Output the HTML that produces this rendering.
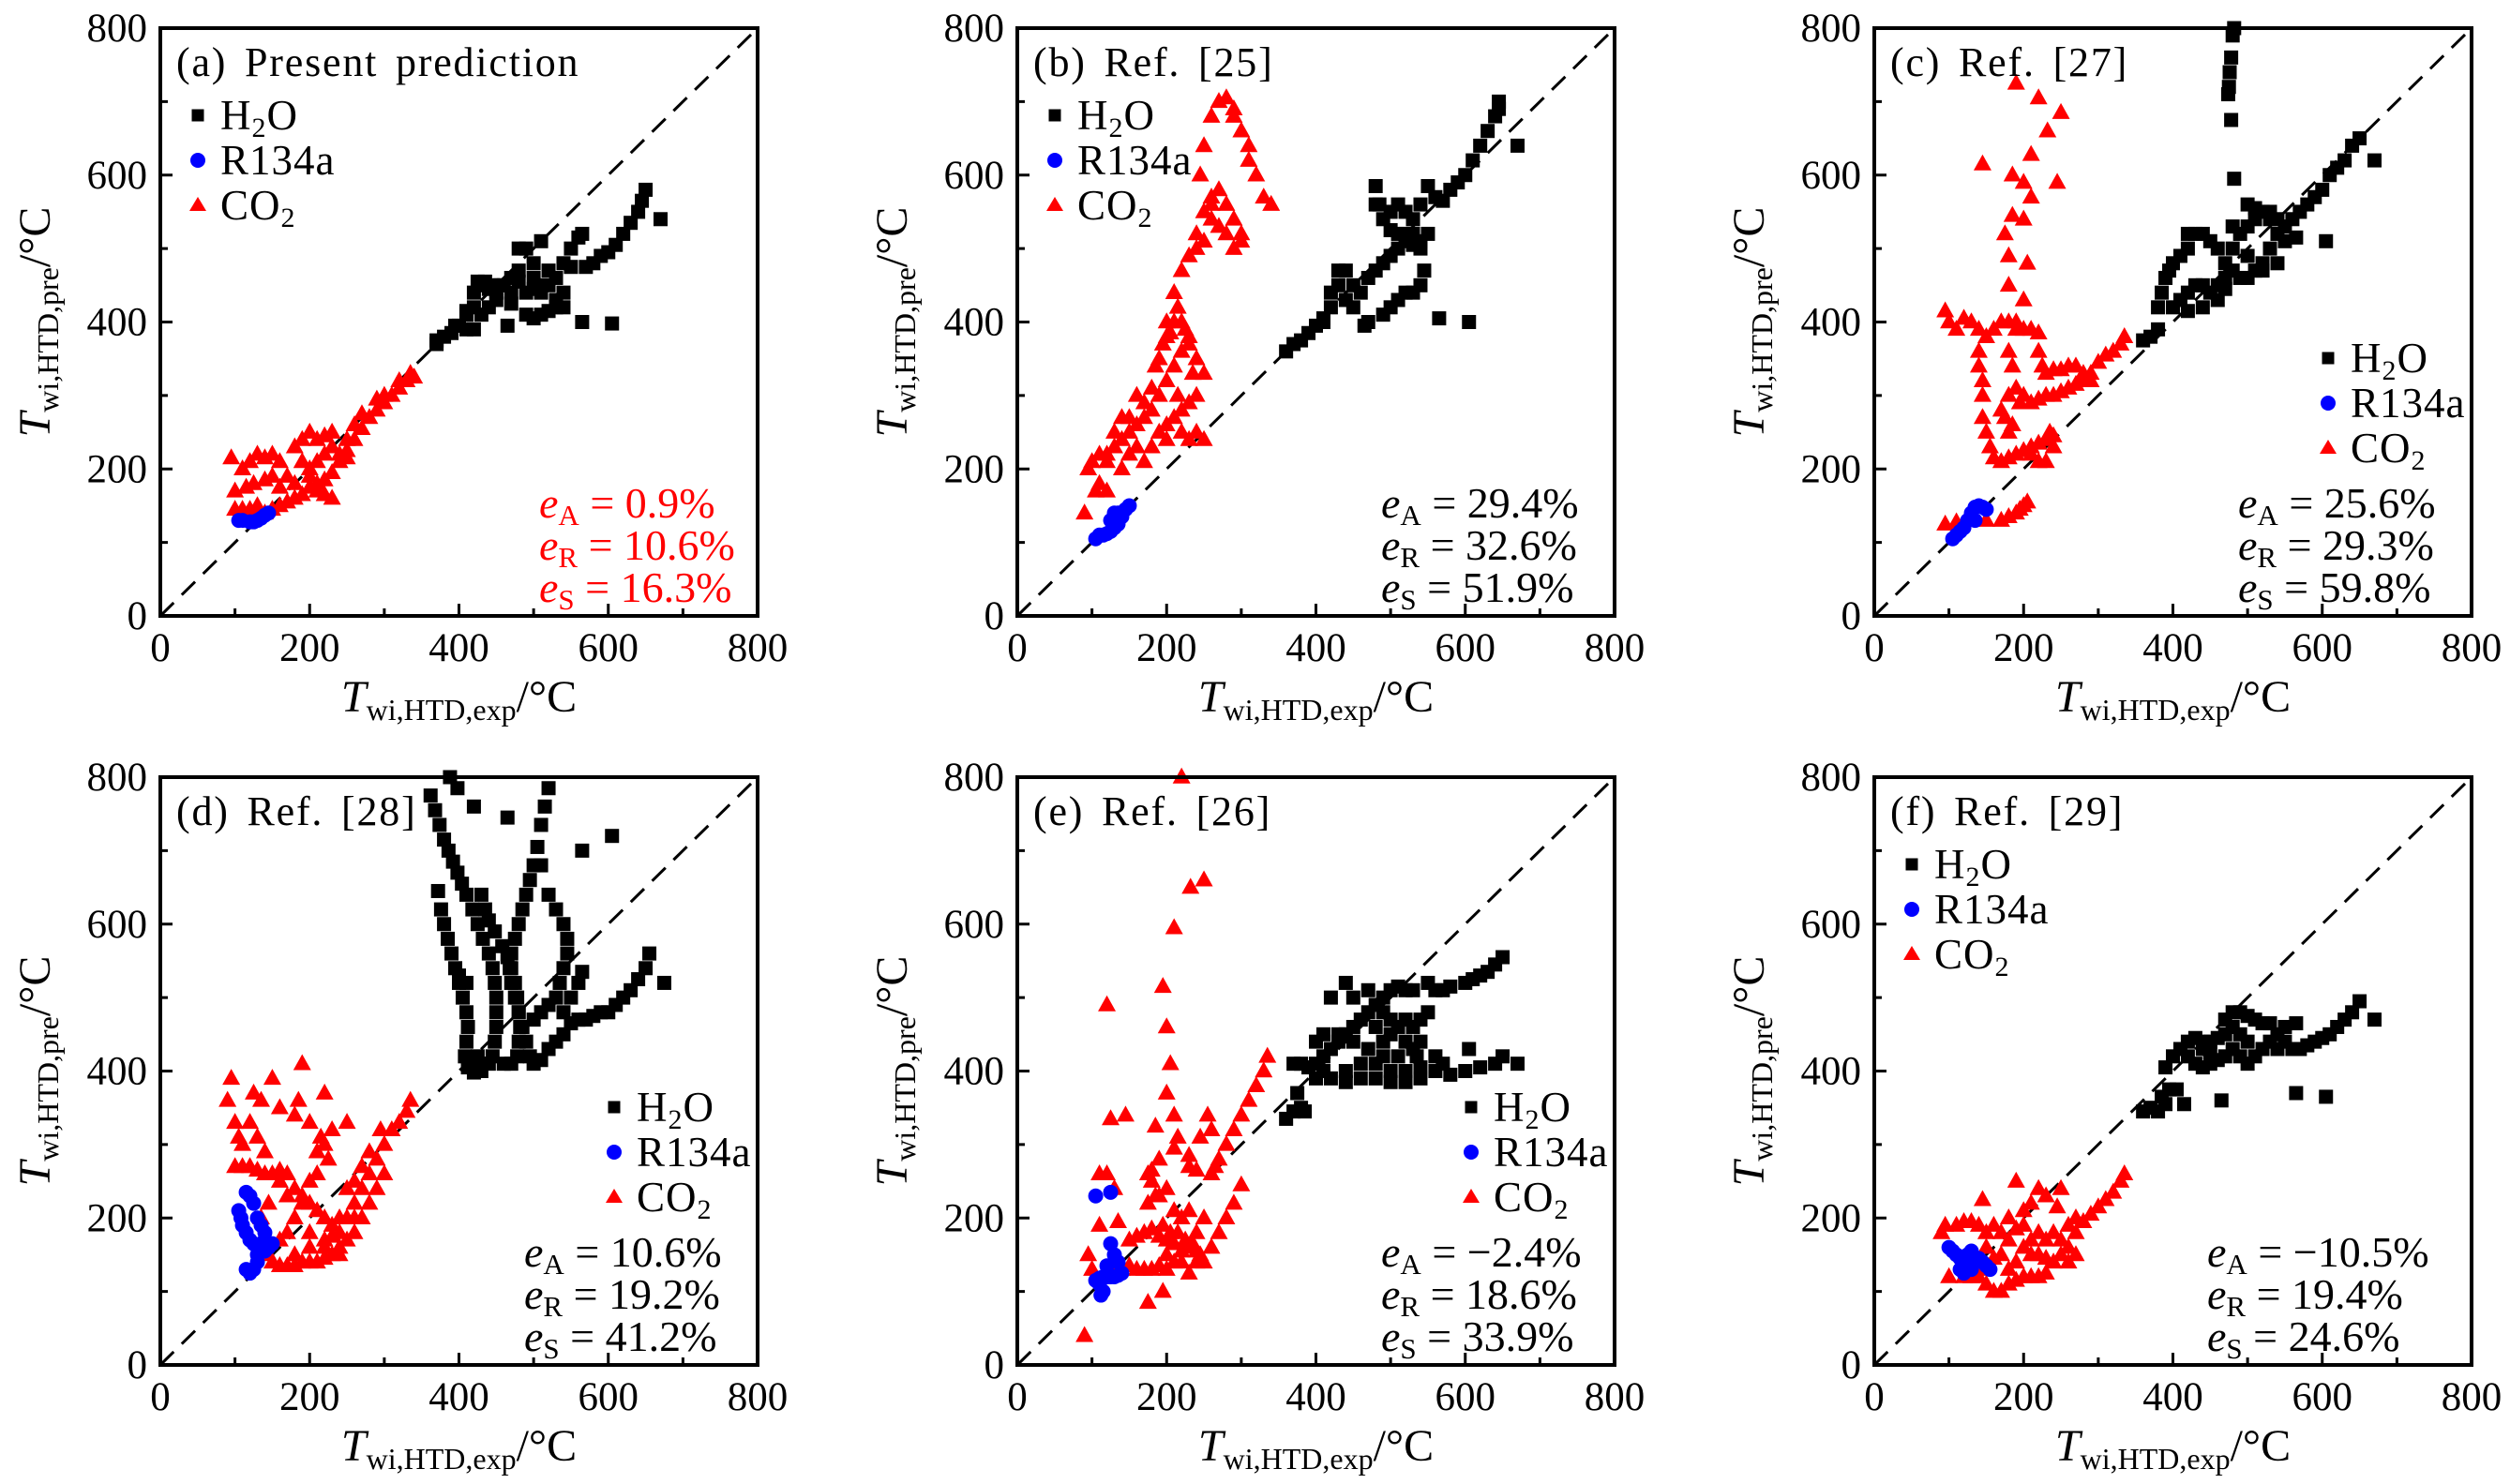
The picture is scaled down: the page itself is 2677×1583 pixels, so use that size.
<!DOCTYPE html>
<html><head><meta charset="utf-8"><style>
html,body{margin:0;padding:0;background:#fff}
svg{display:block;font-family:"Liberation Serif",serif}
</style></head><body>
<svg id="fig" width="2677" height="1583" viewBox="0 0 2677 1583" xmlns="http://www.w3.org/2000/svg"></svg>
<script>
const tickValues=[0,200,400,600,800];
const panelTitles=["(a) Present prediction","(b) Ref. [25]","(c) Ref. [27]","(d) Ref. [28]","(e) Ref. [26]","(f) Ref. [29]"];
const statA=["0.9%","29.4%","25.6%","10.6%","\u22122.4%","\u221210.5%"];
const statR=["10.6%","32.6%","29.3%","19.2%","18.6%","19.4%"];
const statS=["16.3%","51.9%","59.8%","41.2%","33.9%","24.6%"];

const aH2O=[[370,370],[380,380],[390,385],[400,395],[410,410],[420,420],[420,440],[430,450],[440,445],[450,440],[460,450],[470,460],[480,470],[480,500],[490,500],[500,480],[510,510],[500,460],[510,450],[520,470],[530,460],[540,440],[540,420],[530,420],[520,415],[510,410],[500,405],[490,410],[470,425],[450,430],[440,420],[430,410],[420,390],[410,415],[425,455],[435,455],[445,450],[455,450],[470,440],[480,455],[490,440],[500,445],[510,440],[520,450],[530,430],[540,480],[550,500],[560,515],[565,520],[550,475],[570,475],[580,480],[590,490],[600,495],[610,505],[620,520],[630,535],[640,550],[645,565],[650,580],[670,540],[565,400],[605,398],[465,395],[410,390],[370,375],[395,395]];
const aR134a=[[105,130],[110,130],[120,128],[125,128],[130,130],[135,133],[140,137],[145,140]];
const aCO2=[[140,140],[150,145],[160,150],[170,155],[180,160],[190,165],[200,175],[210,180],[220,185],[230,195],[240,210],[250,225],[260,240],[270,255],[280,270],[290,280],[300,290],[310,300],[320,310],[330,320],[340,325],[250,240],[260,260],[270,275],[290,295],[300,300],[320,320],[335,330],[95,215],[100,170],[100,145],[110,145],[120,145],[130,150],[110,200],[120,210],[130,220],[140,215],[150,220],[160,210],[115,175],[125,180],[140,185],[150,190],[160,175],[170,190],[180,230],[190,240],[200,250],[210,240],[220,245],[230,250],[200,200],[210,210],[220,220],[230,230],[190,210],[200,190],[210,170],[220,165],[230,160],[180,180],[240,220],[250,215]];

const bH2O=[[360,360],[370,370],[380,375],[390,385],[400,395],[410,405],[420,420],[420,440],[430,470],[440,470],[430,450],[450,450],[460,440],[470,460],[480,470],[490,480],[500,490],[510,500],[520,510],[530,505],[540,510],[550,520],[480,560],[480,585],[485,560],[490,540],[500,525],[510,520],[520,520],[530,520],[540,500],[545,470],[540,450],[530,440],[520,440],[510,430],[500,420],[490,410],[470,400],[450,420],[440,430],[500,550],[510,560],[520,550],[530,540],[540,560],[550,585],[560,570],[570,565],[580,580],[590,590],[600,600],[610,620],[620,640],[630,660],[640,680],[645,690],[645,700],[670,640],[565,405],[605,400],[465,395],[410,400]];
const bR134a=[[105,105],[110,110],[115,110],[120,112],[125,115],[130,120],[135,125],[140,135],[145,145],[150,150],[125,130],[130,140],[135,140]];
const bCO2=[[90,140],[95,200],[100,210],[110,220],[120,220],[130,230],[140,240],[150,250],[160,260],[170,270],[180,280],[190,300],[200,320],[210,340],[220,360],[230,380],[210,400],[215,420],[200,380],[190,350],[180,310],[170,290],[160,300],[150,270],[140,270],[130,250],[120,210],[110,180],[105,170],[120,170],[140,200],[150,220],[160,230],[170,210],[180,230],[200,260],[210,270],[220,250],[230,240],[240,250],[250,240],[250,330],[240,350],[230,370],[220,400],[225,390],[185,340],[195,370],[205,385],[215,300],[220,280],[230,290],[200,240],[190,250],[235,330],[240,300],[200,400],[210,440],[220,470],[230,490],[240,520],[250,550],[260,570],[270,580],[280,560],[290,540],[300,520],[300,510],[290,500],[280,520],[270,530],[260,540],[250,510],[260,560],[240,500],[245,600],[250,640],[260,680],[270,700],[280,705],[290,690],[300,660],[310,640],[320,600],[330,570],[340,560],[290,680],[310,620]];

const cH2O=[[360,375],[370,380],[380,390],[380,420],[385,440],[390,460],[395,470],[400,480],[410,490],[420,500],[420,520],[430,520],[440,520],[450,510],[460,500],[470,480],[480,470],[490,460],[500,460],[510,470],[520,480],[530,500],[540,520],[550,530],[560,540],[570,550],[580,560],[590,570],[600,580],[610,600],[620,610],[630,620],[640,640],[650,650],[670,620],[565,515],[605,510],[400,420],[410,430],[420,440],[430,450],[440,450],[450,440],[460,450],[470,460],[480,500],[490,520],[500,530],[510,540],[520,550],[530,550],[540,540],[550,510],[540,480],[520,470],[500,490],[480,530],[500,560],[510,555],[530,540],[420,415],[440,420],[460,430],[470,445],[475,720],[478,760],[480,790],[482,800],[476,740],[478,675],[482,595],[474,710]];
const cR134a=[[105,105],[110,110],[115,115],[120,120],[125,130],[130,140],[135,148],[140,150],[145,148],[150,145],[130,135],[135,130]];
const cCO2=[[95,125],[110,128],[130,130],[150,130],[170,130],[180,135],[190,140],[200,150],[205,155],[195,145],[95,415],[100,400],[110,390],[120,405],[130,400],[140,390],[150,380],[140,360],[140,340],[145,320],[145,300],[145,270],[150,250],[155,230],[160,215],[170,210],[180,215],[190,220],[200,225],[210,230],[220,235],[230,240],[240,245],[230,210],[220,210],[210,220],[235,250],[240,230],[170,280],[180,300],[190,310],[200,300],[210,290],[220,295],[230,300],[240,300],[250,305],[260,310],[270,315],[280,320],[290,330],[300,345],[310,355],[320,360],[330,370],[335,380],[160,390],[170,400],[180,400],[190,390],[200,390],[210,390],[220,385],[220,360],[225,340],[230,330],[240,335],[250,335],[260,340],[270,340],[280,330],[290,320],[180,360],[185,340],[175,270],[180,250],[185,260],[195,290],[145,615],[190,725],[220,705],[250,685],[232,660],[210,628],[185,600],[200,590],[245,590],[210,570],[185,545],[200,540],[175,520],[180,490],[205,480],[180,450],[200,430],[190,400]];

const dH2O=[[372,645],[376,620],[380,600],[385,580],[390,560],[395,540],[400,520],[405,500],[410,480],[412,460],[410,440],[408,420],[412,405],[420,398],[430,400],[362,775],[368,755],[374,735],[380,715],[386,700],[392,685],[398,670],[404,655],[410,640],[418,620],[425,600],[432,580],[440,560],[445,540],[448,520],[450,500],[450,480],[450,460],[448,440],[445,420],[440,410],[430,410],[425,420],[388,800],[398,785],[420,760],[430,640],[435,620],[440,605],[448,590],[458,570],[465,555],[470,540],[475,520],[478,500],[480,480],[482,460],[480,440],[478,420],[470,410],[460,410],[520,785],[515,760],[510,735],[505,705],[500,680],[495,660],[490,640],[485,620],[480,600],[475,580],[470,560],[468,540],[470,520],[475,500],[480,480],[485,460],[490,440],[495,420],[500,410],[510,415],[520,430],[530,440],[540,450],[550,465],[560,470],[570,470],[580,475],[590,480],[600,480],[610,490],[620,500],[630,510],[640,525],[650,540],[655,560],[675,520],[510,680],[520,640],[530,620],[540,600],[545,580],[545,560],[540,540],[535,520],[530,500],[520,490],[510,480],[500,470],[540,480],[550,500],[560,520],[565,535],[465,745],[565,700],[605,720],[410,520],[400,530]];
const dR134a=[[105,210],[108,200],[110,190],[115,180],[120,170],[125,165],[130,160],[135,155],[140,155],[145,160],[150,165],[115,235],[120,230],[125,220],[130,200],[135,190],[140,180],[130,140],[125,130],[120,125],[115,130],[130,150],[135,165],[140,170]];
const dCO2=[[90,360],[95,390],[100,330],[105,310],[110,300],[120,330],[130,310],[125,370],[135,360],[140,290],[150,390],[160,350],[180,340],[190,410],[185,360],[200,330],[220,370],[230,320],[250,330],[100,270],[110,270],[120,270],[130,265],[140,260],[150,260],[160,265],[170,260],[180,240],[190,230],[200,220],[210,210],[220,200],[230,190],[240,180],[250,200],[260,220],[270,240],[280,260],[290,280],[300,300],[310,320],[320,330],[330,345],[335,360],[300,260],[290,240],[280,220],[270,200],[260,180],[250,170],[240,160],[230,150],[220,145],[210,140],[200,140],[190,140],[180,135],[170,135],[160,135],[150,140],[145,150],[140,170],[135,200],[145,220],[160,250],[170,230],[210,290],[215,310],[220,300],[225,280],[210,260],[200,250],[190,220],[180,200],[170,180],[160,170],[200,180],[220,170],[230,175],[240,200],[250,240],[260,250],[270,270],[280,290],[295,320],[260,200],[240,150],[220,160],[200,160],[180,150]];

const eH2O=[[360,335],[370,345],[380,350],[385,345],[375,370],[370,410],[380,410],[390,405],[400,410],[410,420],[420,430],[430,440],[440,450],[450,460],[460,470],[470,480],[480,490],[490,500],[500,510],[510,515],[520,510],[530,510],[550,520],[560,510],[570,510],[580,515],[600,520],[610,525],[620,530],[630,535],[640,545],[650,555],[400,440],[410,450],[430,450],[450,440],[470,430],[490,420],[510,420],[530,430],[540,440],[560,420],[570,410],[560,400],[540,390],[520,385],[500,385],[480,390],[460,390],[440,385],[420,390],[400,390],[410,400],[440,400],[460,410],[480,410],[500,400],[520,400],[540,405],[580,395],[600,400],[620,405],[640,410],[650,420],[670,410],[605,430],[420,500],[440,520],[450,500],[470,510],[490,480],[500,470],[510,460],[520,470],[530,460],[540,470],[550,480],[480,460],[490,440],[500,450],[520,440],[535,420]];
const eR134a=[[105,115],[110,118],[115,120],[120,120],[125,120],[130,120],[135,122],[140,125],[110,110],[115,100],[112,95],[105,230],[125,235],[125,165],[130,150],[135,140],[120,135]];
const eCO2=[[90,40],[95,150],[100,130],[110,260],[110,190],[120,260],[120,490],[125,335],[130,240],[135,195],[145,340],[150,170],[160,175],[170,180],[175,85],[180,265],[185,325],[190,280],[195,100],[195,515],[200,460],[205,410],[200,370],[210,340],[210,295],[215,310],[210,595],[230,285],[232,650],[250,660],[245,310],[255,340],[260,320],[265,270],[270,280],[280,300],[290,320],[300,340],[310,360],[320,380],[330,400],[335,420],[270,180],[280,200],[290,220],[300,245],[260,160],[250,140],[240,140],[230,125],[220,155],[210,165],[200,170],[190,175],[180,185],[175,220],[180,250],[190,230],[200,240],[210,210],[220,200],[230,210],[240,180],[250,200],[130,130],[140,130],[150,135],[160,130],[170,130],[180,130],[190,135],[200,130],[200,150],[210,140],[220,140],[230,160],[240,155],[175,260],[185,230],[195,190],[205,180],[215,180],[225,170],[235,165],[245,150],[220,800],[260,260],[240,265],[230,270]];

const fH2O=[[360,345],[370,350],[380,345],[390,355],[385,365],[395,375],[405,375],[415,355],[390,405],[400,420],[410,430],[420,440],[430,445],[440,440],[450,440],[460,445],[470,450],[480,480],[490,480],[500,475],[510,470],[520,465],[530,465],[540,450],[550,440],[560,430],[570,430],[580,435],[590,440],[600,445],[610,450],[620,460],[630,470],[640,480],[650,495],[670,470],[565,370],[605,365],[465,360],[420,420],[430,410],[440,405],[450,410],[460,415],[470,420],[480,430],[490,420],[500,410],[510,420],[520,430],[530,440],[540,430],[500,440],[480,460],[470,470],[490,450],[450,425],[440,430],[565,465],[550,460]];
const fR134a=[[100,160],[105,155],[110,150],[115,145],[120,140],[125,135],[130,130],[135,140],[140,145],[145,140],[150,135],[155,130],[115,130],[120,125],[125,150],[130,155]];
const fCO2=[[90,180],[95,190],[100,120],[110,190],[120,195],[130,195],[140,190],[145,225],[150,180],[160,190],[170,180],[180,200],[190,250],[200,210],[210,220],[220,240],[230,230],[250,240],[245,215],[120,120],[130,120],[140,120],[150,110],[160,100],[170,100],[180,110],[190,115],[200,120],[210,120],[220,120],[230,125],[240,140],[250,150],[260,160],[270,180],[280,195],[290,205],[300,215],[310,225],[320,235],[330,250],[335,260],[200,160],[210,170],[220,180],[230,170],[170,150],[180,130],[190,140],[160,145],[150,160],[140,130],[180,170],[190,185],[200,190],[210,150],[220,150],[260,190],[270,200],[240,180],[250,170],[230,145],[260,140],[270,150]];

const panelH2O=[aH2O,bH2O,cH2O,dH2O,eH2O,fH2O];
const panelR134a=[aR134a,bR134a,cR134a,dR134a,eR134a,fR134a];
const panelCO2=[aCO2,bCO2,cCO2,dCO2,eCO2,fCO2];
const legendBottomRight=[false,false,true,true,true,false];

const NS="http://www.w3.org/2000/svg";
const svg=document.getElementById('fig');
const W=637, H=627;
const X0=[171,1085,1999], Y0=[30,829];
function mk(tag,attrs,parent){const e=document.createElementNS(NS,tag);for(const k in attrs)e.setAttribute(k,attrs[k]);(parent||svg).appendChild(e);return e;}

function drawSquare(g,cx,cy){const s=15;return mk('rect',{x:cx-s/2,y:cy-s/2,width:s,height:s,fill:'#000'},g);}
function drawCircle(g,cx,cy){return mk('circle',{cx:cx,cy:cy,r:8,fill:'#0000ff'},g);}
function drawTri(g,cx,cy){const h=17,w=19;return mk('polygon',{points:`${cx},${cy-h*0.6} ${cx-w/2},${cy+h*0.4} ${cx+w/2},${cy+h*0.4}`,fill:'#ff0000'},g);}

const TITLE_SUB='<tspan font-style="italic">T</tspan><tspan font-size="32" dy="9">';
for(let p=0;p<6;p++){
  const x0=X0[p%3], y0=Y0[Math.floor(p/3)];
  const sx=v=>x0+v/800*W, sy=v=>y0+H-v/800*H;
  const g=mk('g',{});
  
  
  const diag=mk('line',{x1:sx(0),y1:sy(0),x2:sx(800),y2:sy(800),stroke:'#000','stroke-width':3,'stroke-dasharray':'20 12'},g);
  
  
  const sH=mk('g',{},g);
  panelH2O[p].forEach(d=>drawSquare(sH,sx(d[0]),sy(d[1])));
  const sC=mk('g',{},g);
  panelCO2[p].forEach(d=>drawTri(sC,sx(d[0]),sy(d[1])));
  const sR=mk('g',{},g);
  panelR134a[p].forEach(d=>drawCircle(sR,sx(d[0]),sy(d[1])));
  const fr=mk('rect',{x:x0,y:y0,width:W,height:H,fill:'none',stroke:'#000','stroke-width':4},g);
  
  
  for(let v=100;v<800;v+=100){
    const L=(v%200===0)?13:8;
    mk('line',{x1:sx(v),y1:sy(0),x2:sx(v),y2:sy(0)-L,stroke:'#000','stroke-width':3},g);
    mk('line',{x1:sx(0),y1:sy(v),x2:sx(0)+L,y2:sy(v),stroke:'#000','stroke-width':3},g);
  }
  tickValues.forEach(v=>{
    const tx=mk('text',{x:sx(v),y:sy(0)+48,'font-size':43,'text-anchor':'middle'},g);
    tx.textContent=v;
    
    
    const ty=mk('text',{x:x0-14,y:sy(v)+14,'font-size':43,'text-anchor':'end'},g);
    ty.textContent=v;
    
    
  });
  const xt=mk('text',{x:x0+W/2,y:y0+H+102,'font-size':48,'text-anchor':'middle'},g);
  xt.innerHTML=TITLE_SUB+'wi,HTD,exp</tspan><tspan dy="-9">/°C</tspan>';
  
  
  const yt=mk('text',{x:0,y:0,'font-size':48,'text-anchor':'middle',transform:`translate(${x0-118},${y0+H/2}) rotate(-90)`},g);
  yt.innerHTML=TITLE_SUB+'wi,HTD,pre</tspan><tspan dy="-9">/°C</tspan>';
  
  
  const pt=mk('text',{x:x0+17,y:y0+51,'font-size':44,'letter-spacing':1.8,'word-spacing':6},g);
  pt.textContent=panelTitles[p];
  
  
  const lg=mk('g',{},g);
  
  
  const lx=legendBottomRight[p]?x0+484:x0+40;
  const ly=legendBottomRight[p]?y0+352:y0+93;
  const labels=['H<tspan font-size="30" dy="8">2</tspan><tspan dy="-8">O</tspan>','R134a','CO<tspan font-size="30" dy="8">2</tspan>'];
  const names=['legend-entry-h2o','legend-entry-r134a','legend-entry-co2'];
  for(let i=0;i<3;i++){
    const yy=ly+i*48;
    const eg=mk('g',{},lg);
    
    
    if(i===0)mk('rect',{x:lx-6.5,y:yy-6.5,width:13,height:13,fill:'#000'},eg);
    if(i===1)mk('circle',{cx:lx,cy:yy,r:8,fill:'#0000ff'},eg);
    if(i===2)mk('polygon',{points:`${lx},${yy-9} ${lx-9},${yy+6} ${lx+9},${yy+6}`,fill:'#ff0000'},eg);
    const t=mk('text',{x:lx+24,y:yy+15,'font-size':45,'letter-spacing':1},eg);
    t.innerHTML=labels[i];
  }
  const st=mk('g',{fill:p===0?'#ff0000':'#000'},g);
  
  
  const sxp=x0+(p===0?404:(p===5?355:388));
  const subs=['A','R','S'], vals=[statA[p],statR[p],statS[p]];
  for(let i=0;i<3;i++){
    const t=mk('text',{x:sxp,y:y0+522+i*45,'font-size':46},st);
    t.innerHTML='<tspan font-style="italic">e</tspan><tspan font-size="31" dy="8">'+subs[i]+'</tspan><tspan dy="-8"> = '+vals[i]+'</tspan>';
  }
}
</script>
</body></html>
